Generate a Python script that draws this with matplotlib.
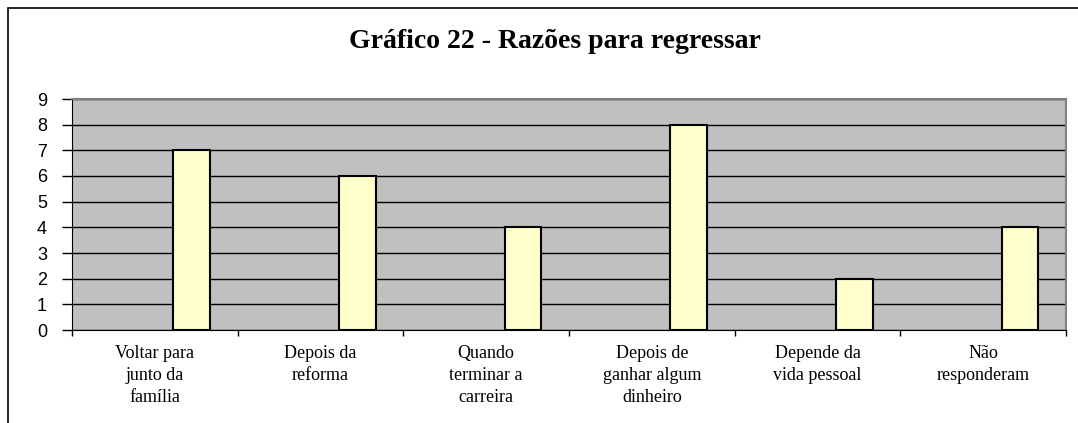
import numpy as np
import matplotlib
matplotlib.use('Agg')
import matplotlib.pyplot as plt
from matplotlib.patches import Rectangle

#data
categories = ['Voltar para\njunto da\nfamília', 'Depois da\nreforma', 'Quando\nterminar a\ncarreira',
              'Depois de\nganhar algum\ndinheiro', 'Depende da\nvida pessoal', 'Não\nresponderam']
values = [7, 6, 4, 8, 2, 4]
y_ticks = list(range(0, 10))
title = 'Gráfico 22 - Razões para regressar'

fig = plt.figure(figsize=(10.78, 4.23), dpi=100)
ax = fig.add_axes([72/1078, 93/423, 994/1078, 231/423])

#outer chart frame (only top and left are visible in the picture)
fig.add_artist(Rectangle((8/1078, -0.1), 1.2, (423 - 8)/423 + 0.1, transform=fig.transFigure,
                         fill=False, edgecolor='black', linewidth=1.2))

x = np.arange(len(values))
bar_w = 1/4.5
ax.bar(x + bar_w, values, width=bar_w, color='#FFFFCC', edgecolor='black', linewidth=1.5, zorder=3)

ax.set_facecolor('#C0C0C0')
ax.set_xlim(-0.5, len(values) - 0.5)
ax.set_ylim(0, 9)
ax.set_yticks(y_ticks)
ax.set_yticklabels([str(t) for t in y_ticks], family='Liberation Sans', fontsize=13)
ax.yaxis.grid(True, color='black', linewidth=1)
ax.set_axisbelow(True)

#category labels between tick marks
ax.set_xticks(np.arange(len(values) + 1) - 0.5)
ax.set_xticklabels([])
ax.set_xticks(x, minor=True)
ax.set_xticklabels(categories, minor=True, family='Liberation Serif', fontsize=13, linespacing=1.38)
ax.tick_params(axis='x', which='minor', length=0, pad=11)
ax.tick_params(axis='x', which='major', length=4, width=1, direction='out')
ax.tick_params(axis='y', length=7, width=1, direction='out', pad=11)

for side in ['top', 'right']:
    ax.spines[side].set_color('#808080')
    ax.spines[side].set_linewidth(1.5)
ax.spines['left'].set_color('black')
ax.spines['bottom'].set_color('black')

fig.text(555/1078, 1 - 41/423, title, ha='center', va='center',
         family='Liberation Serif', fontweight='bold', fontsize=20)

fig.savefig('out.png', dpi=100)
